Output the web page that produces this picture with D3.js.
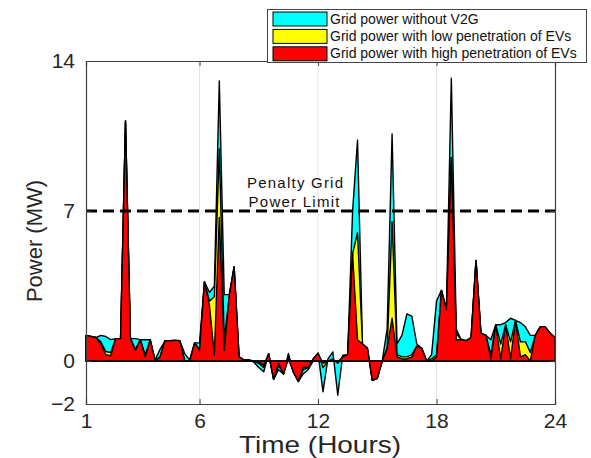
<!DOCTYPE html>
<html><head><meta charset="utf-8">
<script src="https://cdn.jsdelivr.net/npm/d3@7"></script>
<style>body{margin:0;background:#fff;} text{font-family:"Liberation Sans",Arial,sans-serif;}</style>
</head><body>
<svg id="c" width="591" height="458"></svg>
<script>
// time index (15-minute slots, 1..96)
const slots = d3.range(1, 97);
const gridNoV2G = [1.2,1.15,1.1,1.2,1.15,1.0,1.05,1.05,11.2,1.05,1.05,1.0,1.0,1.0,0.05,0.55,0.95,0.95,0.97,0.95,0.35,0.05,0.85,0.85,3.7,3.2,3.5,13.07,3.1,3.1,4.4,0.2,0.05,0.05,-0.05,-0.3,-0.5,0.35,-0.85,-0.4,-0.6,0.36,-0.5,-0.95,-0.6,-0.4,0.0,0.37,-1.43,0.1,0.43,-1.59,0.28,0.3,7.0,10.3,0.8,0.6,-0.9,-0.8,0,1.5,10.6,0.8,1.2,2.2,2.1,0.8,0.6,0,0.3,2.8,3.3,2.4,13.2,1.5,1.0,0.95,1.1,4.7,1.3,1.2,1.0,1.7,1.7,1.8,2.0,1.9,1.8,1.6,1.2,1.2,1.6,1.6,1.3,1.1];
const gridLowEV = [1.2,1.15,1.1,0.9,0.45,0.4,1.05,1.05,11.2,1.05,0.55,1.0,0.3,1.0,0,0.2,0.95,0.95,0.97,0.95,0,0,0.85,0.55,3.7,2.8,3.0,9.9,1.0,3.0,4.4,0.2,0.05,0.05,0,-0.1,-0.3,0.35,-0.85,-0.2,-0.6,0.2,-0.5,-0.95,-0.4,-0.3,0.1,0.37,-0.3,0,0.1,-0.1,0.2,0.3,5.0,6.0,0.8,0.6,-0.9,-0.8,0,0.6,6.5,0.3,0.2,0.2,0.3,0.7,0.6,0,0.1,0.3,3.3,2.4,9.5,1.3,1.0,0.95,1.1,4.7,1.3,1.2,0.3,1.7,0.8,1.7,0.9,1.9,0.9,0.9,0.4,1.2,1.6,1.6,1.3,1.1];
const gridHighEV = [1.2,1.15,1.1,0.8,0.3,0.25,1.05,1.05,11.2,1.05,0.5,1.0,0.2,1.0,0,0.2,0.95,0.95,0.97,0.95,0,0,0.85,0.5,3.7,2.6,0.3,6.7,0.5,3.0,4.4,0.2,0.05,0.05,0,-0.05,-0.2,0.35,-0.85,-0.1,-0.6,0.1,-0.5,-0.95,-0.3,-0.3,0.1,0.37,-0.1,0,0.05,-0.05,0.2,0.3,5.0,1.0,0.8,0.6,-0.9,-0.8,0,0.6,2.0,0.2,0.1,0.1,0.2,0.7,0.6,0,0,0.2,3.3,2.4,9.5,1.0,1.0,0.95,1.1,4.7,1.3,1.2,0.1,1.7,0.1,1.7,0.1,1.9,0.2,0.3,0,1.2,1.6,1.6,1.3,1.1];
const seriesNames = ["Grid power without V2G","Grid power with low penetration of EVs","Grid power with high penetration of EVs"];
const seriesColors = ["#00ffff","#ffff00","#ff0000"];
const xTickValues = [1,24,48,72,96];
const xTickLabels = ["1","6","12","18","24"];
const yTickValues = [-2,0,7,14];
const penaltyLimit = 7;

const svg = d3.select("#c");
const L=86, R=555, T=61, B=404;
const x = d3.scaleLinear().domain([1,96]).range([L,R]);
const y = d3.scaleLinear().domain([-2,14]).range([B,T]);

// grid
svg.append("g").selectAll("line").data(xTickValues.slice(1,-1)).join("line")
  .attr("x1",d=>x(d)).attr("x2",d=>x(d)).attr("y1",T).attr("y2",B)
  .attr("stroke","#e3e3e3").attr("stroke-width",1);
svg.append("g").selectAll("line").data([7]).join("line")
  .attr("x1",L).attr("x2",R).attr("y1",d=>y(d)).attr("y2",d=>y(d))
  .attr("stroke","#e3e3e3").attr("stroke-width",1);

const data = [gridNoV2G, gridLowEV, gridHighEV];
const area = d3.area().x((d,i)=>x(slots[i])).y0(y(0)).y1(d=>y(d));
data.forEach((s,k)=>{
  svg.append("path").datum(s).attr("d",area)
    .attr("fill",seriesColors[k]).attr("stroke","#000").attr("stroke-width",1.4)
    .attr("stroke-linejoin","round");
});
svg.append("line").attr("x1",L).attr("x2",R).attr("y1",y(0)).attr("y2",y(0))
  .attr("stroke","#000").attr("stroke-width",1.2);

// penalty line
svg.append("line").attr("x1",L).attr("x2",R).attr("y1",y(penaltyLimit)).attr("y2",y(penaltyLimit))
  .attr("stroke","#000").attr("stroke-width",3).attr("stroke-dasharray","11,6");
svg.append("text").attr("x",295).attr("y",188).attr("text-anchor","middle")
  .attr("font-size",15).attr("fill","#111").attr("textLength",96).attr("lengthAdjust","spacing").text("Penalty Grid");
svg.append("text").attr("x",294).attr("y",207).attr("text-anchor","middle")
  .attr("font-size",15).attr("fill","#111").attr("textLength",91).attr("lengthAdjust","spacing").text("Power Limit");

// axes
const axC="#404040";
const xAxis = d3.axisBottom(x).tickValues(xTickValues).tickFormat((d,i)=>xTickLabels[i]).tickSize(-5).tickPadding(12);
const gx = svg.append("g").attr("transform",`translate(0,${B})`).call(xAxis);
const xAxisTop = d3.axisTop(x).tickValues(xTickValues).tickFormat("").tickSize(-5);
const gxt = svg.append("g").attr("transform",`translate(0,${T})`).call(xAxisTop);
const yAxis = d3.axisLeft(y).tickValues(yTickValues).tickSize(-5).tickPadding(11);
const gy = svg.append("g").attr("transform",`translate(${L},0)`).call(yAxis);
const yAxisR = d3.axisRight(y).tickValues(yTickValues).tickFormat("").tickSize(-5);
const gyr = svg.append("g").attr("transform",`translate(${R},0)`).call(yAxisR);
[gx,gxt,gy,gyr].forEach(g=>{
  g.select(".domain").attr("stroke",axC).attr("stroke-width",1.2);
  g.selectAll(".tick line").attr("stroke",axC);
  g.selectAll("text").attr("font-size",21).attr("fill","#262626").attr("font-family","Liberation Sans, Arial, sans-serif");
});
gx.selectAll(".tick text").attr("dy","0.55em");

svg.append("text").attr("transform","translate(42,241) rotate(-90)").attr("text-anchor","middle")
  .attr("font-size",22).attr("fill","#262626").text("Power (MW)");
svg.append("text").attr("x",320).attr("y",453).attr("text-anchor","middle")
  .attr("font-size",24).attr("fill","#262626").attr("textLength",162).attr("lengthAdjust","spacingAndGlyphs").text("Time (Hours)");

// legend
const lg = svg.append("g");
lg.append("rect").attr("x",267.5).attr("y",9.5).attr("width",319).attr("height",53)
  .attr("fill","#fff").attr("stroke","#444").attr("stroke-width",1);
seriesNames.forEach((n,k)=>{
  const yy = 12 + k*17.4;
  lg.append("rect").attr("x",273).attr("y",yy).attr("width",54).attr("height",14)
    .attr("fill",seriesColors[k]).attr("stroke","#000").attr("stroke-width",1);
  lg.append("text").attr("x",330).attr("y",yy+11.5).attr("font-size",14).attr("fill","#111").text(n);
});
</script>
</body></html>
